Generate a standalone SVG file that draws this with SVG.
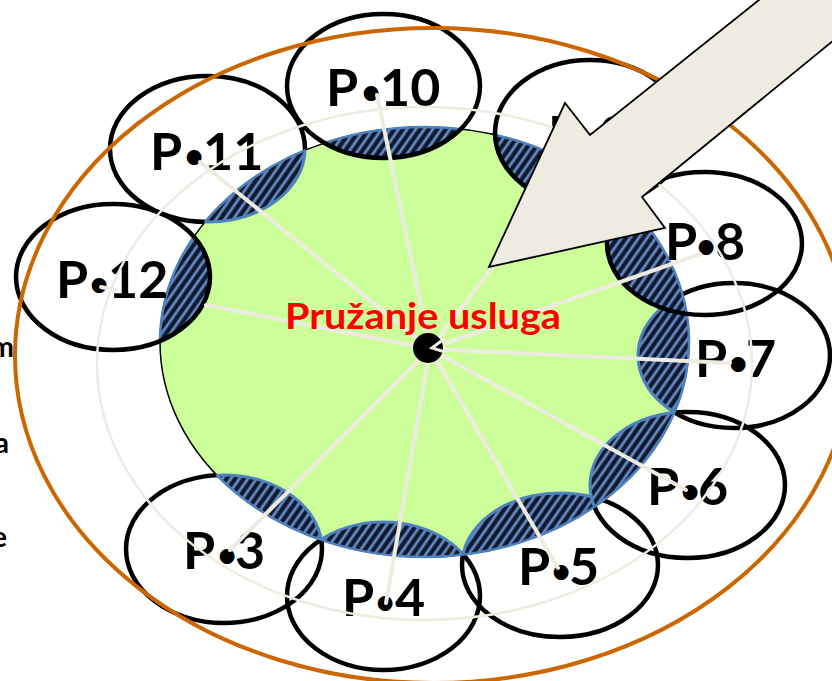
<svg xmlns="http://www.w3.org/2000/svg" xmlns:xlink="http://www.w3.org/1999/xlink" width="832" height="681" viewBox="0 0 832 681">
<defs>
<style>
.po{fill:none;stroke:#000;stroke-width:4.5}
.lens{fill:url(#hatch);stroke:#4f81bd;stroke-width:3}
.spoke{stroke:#EEECE1;stroke-width:4;stroke-linecap:round;fill:none}
.lbl{font-family:Lato,"Open Sans","Liberation Sans",sans-serif;font-weight:bold;font-size:52px;fill:#000}
.b{font-size:34px;text-anchor:middle}
.frag{font-family:Lato,"Liberation Sans",sans-serif;font-weight:bold;font-size:28px;fill:#000;text-anchor:end}
</style>
<pattern id="hatch" patternUnits="userSpaceOnUse" width="7" height="7" patternTransform="rotate(35)">
<rect width="7" height="7" fill="#101829"/>
<rect x="0" width="3.4" height="7" fill="#33507f"/>
<rect x="0.7" width="2" height="7" fill="#6a90cc"/>
</pattern>
<ellipse id="e3" cx="224" cy="549" rx="98" ry="74"/>
<ellipse id="e4" cx="383.5" cy="596" rx="96.5" ry="74"/>
<ellipse id="e5" cx="560" cy="565" rx="98" ry="72"/>
<ellipse id="e6" cx="687.5" cy="485" rx="97.5" ry="73"/>
<ellipse id="e7" cx="734" cy="355.5" rx="96" ry="72.5"/>
<ellipse id="e8" cx="704.5" cy="243.5" rx="97.5" ry="71.5"/>
<ellipse id="e9" cx="590" cy="133" rx="95" ry="73"/>
<ellipse id="e10" cx="383.5" cy="86" rx="96.5" ry="72"/>
<ellipse id="e11" cx="207.5" cy="149" rx="97.5" ry="73"/>
<ellipse id="e12" cx="113" cy="277" rx="97" ry="73"/>
<ellipse id="green" cx="424.5" cy="342" rx="264.5" ry="215"/>
<clipPath id="gclip"><use xlink:href="#green"/></clipPath>
<clipPath id="pclip">
<use xlink:href="#e3"/><use xlink:href="#e4"/><use xlink:href="#e5"/><use xlink:href="#e6"/><use xlink:href="#e7"/>
<use xlink:href="#e8"/><use xlink:href="#e9"/><use xlink:href="#e10"/><use xlink:href="#e11"/><use xlink:href="#e12"/>
</clipPath>
</defs>
<rect width="832" height="681" fill="#fff"/>

<g id="fragments">
<text class="frag" x="14" y="357">m</text>
<text class="frag" x="9" y="453">a</text>
<text class="frag" x="7" y="547">e</text>
</g>

<g id="P3"><use xlink:href="#e3" class="po"/><text class="lbl" y="569"><tspan x="183">P</tspan><tspan class="b" x="227" dy="-2">•</tspan><tspan x="235" dy="2">3</tspan></text></g>
<g id="P4"><use xlink:href="#e4" class="po"/><text class="lbl" y="616"><tspan x="342">P</tspan><tspan class="b" x="385" dy="-2">•</tspan><tspan x="395" dy="2">4</tspan></text></g>
<g id="P5"><use xlink:href="#e5" class="po"/><text class="lbl" y="585"><tspan x="518">P</tspan><tspan class="b" x="561" dy="-2">•</tspan><tspan x="569" dy="2">5</tspan></text></g>
<g id="P6"><use xlink:href="#e6" class="po"/><text class="lbl" y="505"><tspan x="647">P</tspan><tspan class="b" x="690" dy="-2">•</tspan><tspan x="698" dy="2">6</tspan></text></g>
<g id="P7"><use xlink:href="#e7" class="po"/><text class="lbl" y="377"><tspan x="695">P</tspan><tspan class="b" x="738" dy="-2">•</tspan><tspan x="746" dy="2">7</tspan></text></g>
<g id="P11"><use xlink:href="#e11" class="po"/><text class="lbl" y="170"><tspan x="150">P</tspan><tspan class="b" x="194" dy="-2">•</tspan><tspan x="203" dy="2">11</tspan></text></g>

<g id="center-area">
<use xlink:href="#green" fill="#CCFF99" stroke="#000" stroke-width="1.5"/>
<g clip-path="url(#gclip)">
<use xlink:href="#e3" class="lens"/><use xlink:href="#e4" class="lens"/><use xlink:href="#e5" class="lens"/>
<use xlink:href="#e6" class="lens"/><use xlink:href="#e7" class="lens"/><use xlink:href="#e8" class="lens"/>
<use xlink:href="#e9" class="lens"/><use xlink:href="#e10" class="lens"/><use xlink:href="#e11" class="lens"/>
<use xlink:href="#e12" class="lens"/>
</g>
<use xlink:href="#green" fill="none" stroke="#4f81bd" stroke-width="2.5" clip-path="url(#pclip)"/>
</g>

<g id="P8"><use xlink:href="#e8" class="po"/><text class="lbl" y="260"><tspan x="665">P</tspan><tspan class="b" x="706" dy="-2">•</tspan><tspan x="715" dy="2">8</tspan></text></g>
<g id="P9"><use xlink:href="#e9" class="po"/><text class="lbl" y="153"><tspan x="548">P</tspan><tspan class="b" x="590" dy="-2">•</tspan><tspan x="600" dy="2">9</tspan></text></g>
<g id="P10"><use xlink:href="#e10" class="po"/><text class="lbl" y="106"><tspan x="326">P</tspan><tspan class="b" x="371" dy="-2">•</tspan><tspan x="380" dy="2">10</tspan></text></g>
<g id="P12"><use xlink:href="#e12" class="po"/><text class="lbl" y="298"><tspan x="56">P</tspan><tspan class="b" x="99" dy="-2">•</tspan><tspan x="108" dy="2">12</tspan></text></g>

<g id="rings" fill="none">
<ellipse cx="424.5" cy="363.5" rx="327.5" ry="256.5" stroke="#EEECE1" stroke-width="2.5"/>
<ellipse cx="433" cy="355.5" rx="418" ry="327.5" stroke="#CC6600" stroke-width="4"/>
</g>

<g id="connectors" class="spoke">
<line x1="430" y1="349" x2="377" y2="95"/>
<line x1="430" y1="349" x2="200" y2="162"/>
<line x1="430" y1="349" x2="206" y2="305"/>
<line x1="101" y1="287" x2="116" y2="290"/>
<line x1="430" y1="349" x2="590" y2="140"/>
<line x1="432" y1="348" x2="700" y2="254"/>
<line x1="430" y1="349" x2="730" y2="363"/>
<line x1="430" y1="349" x2="686" y2="490"/>
<line x1="430" y1="349" x2="558" y2="568"/>
<line x1="430" y1="349" x2="386" y2="603"/>
<line x1="430" y1="349" x2="230" y2="550"/>
</g>

<g id="title">
<text x="285" y="329" font-family="Lato,'Liberation Sans',sans-serif" font-weight="bold" font-size="36" fill="#FF0000" textLength="276" lengthAdjust="spacingAndGlyphs">Pružanje usluga</text>
</g>

<g id="hub">
<circle cx="428" cy="348" r="15" fill="#000"/>
<polyline points="444,339 432,348 445,352" fill="none" stroke="#EEECE1" stroke-width="3"/>
</g>

<g id="big-arrow">
<polygon points="489,267 565,103 590,135 834,-60 900,-14 642,197 665,228" fill="#EEECE1" stroke="#000" stroke-width="1.8" stroke-linejoin="miter"/>
</g>
</svg>
